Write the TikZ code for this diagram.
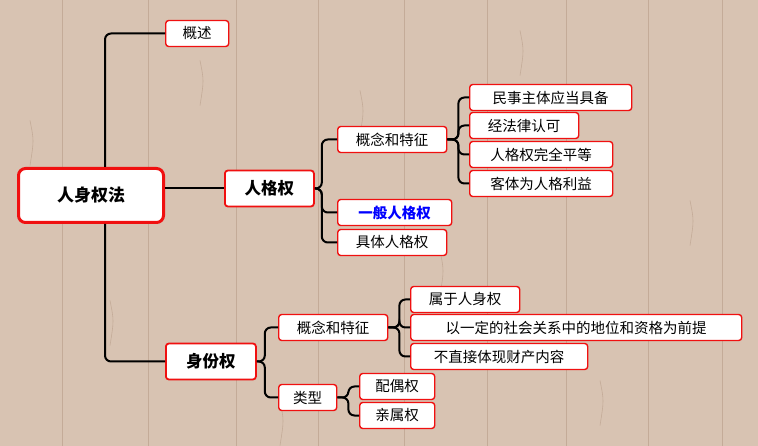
\documentclass[tikz,border=0pt]{standalone}
\usepackage{fontspec}
\setmainfont{Noto Sans CJK SC}
\usetikzlibrary{positioning}
\definecolor{woodbase}{HTML}{D8C3B2}
\definecolor{woodline}{HTML}{C4AB98}
\definecolor{boxred}{HTML}{F01010}
\begin{document}
\begin{tikzpicture}[
  x=1pt, y=-1pt,
  topic/.style={draw=boxred, line width=1.4pt, fill=white, rounded corners=3pt,
    anchor=west, minimum height=26pt, inner xsep=0pt, font=\fontsize{14.5}{16}\selectfont},
  maintopic/.style={topic, minimum height=36pt, line width=1.8pt, font=\fontsize{16.5}{18}\selectfont\bfseries},
  roottopic/.style={topic, minimum height=54pt, line width=3pt, rounded corners=7pt, font=\fontsize{17}{19}\selectfont\bfseries},
  branch/.style={line width=2pt, rounded corners=6pt}
]
% wooden background
\fill[woodbase] (0,0) rectangle (758,445);
\foreach \px in {62,148,236,318,404,487,566,648,722}
  \draw[woodline, line width=1pt] (\px,0) -- (\px,445);
\foreach \px/\py in {30/120,110/300,200/60,280/400,360/90,440/250,520/30,600/380,690/200}
  \draw[woodline, line width=0.6pt] (\px,\py) .. controls (\px+4,\py+20) .. (\px,\py+45);
\useasboundingbox (0,0) rectangle (758,445);

% nodes
\node[roottopic, minimum width=145pt] (root) at (17,195) {人身权法};
\node[topic, minimum width=63pt] (gaishu) at (165,33) {概述};
\node[maintopic, minimum width=89pt] (rgq) at (224,188) {人格权};
\node[maintopic, minimum width=90pt] (sfq) at (165,361) {身份权};

\node[topic, minimum width=109pt] (rgtz) at (337,139) {概念和特征};
\node[topic, minimum width=114pt, text=blue, font=\fontsize{14.5}{16}\selectfont\bfseries] (ybrg) at (337,212) {一般人格权};
\node[topic, minimum width=109pt] (jtrg) at (337,242) {具体人格权};

\node[topic, minimum width=162pt] (ms) at (469,97) {民事主体应当具备};
\node[topic, minimum width=109pt] (jfl) at (469,125) {经法律认可};
\node[topic, minimum width=143pt] (pd) at (469,154) {人格权完全平等};
\node[topic, minimum width=143pt] (kt) at (469,183) {客体为人格利益};

\node[topic, minimum width=109pt] (sftz) at (278,327) {概念和特征};
\node[topic, minimum width=58pt] (lx) at (278,397) {类型};

\node[topic, minimum width=109pt] (sy) at (410,299) {属于人身权};
\node[topic, minimum width=331pt] (dw) at (410,327) {以一定的社会关系中的地位和资格为前提};
\node[topic, minimum width=177pt] (bzj) at (410,356) {不直接体现财产内容};

\node[topic, minimum width=75pt] (po) at (359,386) {配偶权};
\node[topic, minimum width=75pt] (qs) at (359,415) {亲属权};

% connectors
\draw[branch] ([xshift=14pt]root.north) |- (gaishu.west);
\draw[branch] ([xshift=14pt]root.south) |- (sfq.west);
\draw[branch] (root.east |- rgq.west) -- (rgq.west);
\foreach \c in {rgtz,ybrg,jtrg}
  \draw[branch] (rgq.east) -- ++(7,0) |- (\c.west);
\foreach \c in {ms,jfl,pd,kt}
  \draw[branch] (rgtz.east) -- ++(11,0) |- (\c.west);
\foreach \c in {sftz,lx}
  \draw[branch] (sfq.east) -- ++(8,0) |- (\c.west);
\foreach \c in {sy,dw,bzj}
  \draw[branch] (sftz.east) -- ++(11,0) |- (\c.west);
\foreach \c in {po,qs}
  \draw[branch] (lx.east) -- ++(11,0) |- (\c.west);
\end{tikzpicture}
\end{document}
